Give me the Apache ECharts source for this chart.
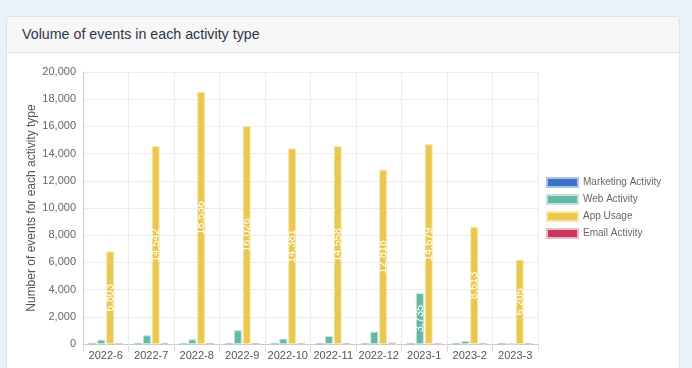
<!DOCTYPE html>
<html>
<head>
<meta charset="utf-8">
<script src="https://cdn.jsdelivr.net/npm/echarts@6/dist/echarts.min.js"></script>
<style>
html,body{margin:0;padding:0;width:692px;height:368px;overflow:hidden;background:#eaf1f9;}
#card{position:absolute;left:6px;top:16px;width:674px;height:380px;background:#fff;border:1px solid #dfe3e8;border-radius:4px;box-sizing:border-box;}
#head{position:absolute;left:0;top:0;right:0;height:35px;background:#f7f7f7;border-bottom:1px solid #e2e2e2;border-radius:4px 4px 0 0;}
#title{position:absolute;left:15px;top:8px;font-family:"Liberation Sans",Arial,sans-serif;font-size:15px;color:#2b3648;transform:scaleX(0.95);transform-origin:0 0;white-space:nowrap;}
#chart{position:absolute;left:0;top:0;width:692px;height:368px;}
</style>
</head>
<body>
<div id="card"><div id="head"><div id="title">Volume of events in each activity type</div></div></div>
<div id="chart"></div>
<script>
const categories = ['2022-6','2022-7','2022-8','2022-9','2022-10','2022-11','2022-12','2023-1','2023-2','2023-3'];
const marketingActivity = [12, 15, 14, 10, 12, 10, 12, 15, 14, 8];
const webActivity = [316, 640, 345, 1007, 390, 588, 904, 3735, 220, 10];
const appUsage = [6803, 14542, 18536, 16026, 14381, 14558, 12818, 14679, 8613, 6205];
const emailActivity = [10, 60, 60, 40, 50, 70, 110, 20, 50, 10];
const yTicks = [0, 2000, 4000, 6000, 8000, 10000, 12000, 14000, 16000, 18000, 20000];

const chart = echarts.init(document.getElementById('chart'));
const fmt = v => Number(v).toLocaleString('en-US');
const lbl = {
  show: true, position: 'inside', rotate: 90, color: '#fff', fontSize: 11,
  fontFamily: 'Liberation Sans, Arial, sans-serif',
  formatter: p => p.value >= 2000 ? fmt(p.value) : ''
};
function mk(name, data, color, border) {
  return {
    name, type: 'bar', data,
    barCategoryGap: '24%', barGap: '12%',
    itemStyle: { color, borderColor: border, borderWidth: 1 },
    label: lbl
  };
}
chart.setOption({
  animation: false,
  textStyle: { fontFamily: 'Liberation Sans, Arial, sans-serif' },
  grid: { left: 83, top: 72, right: 154, bottom: 24, containLabel: false },
  legend: {
    orient: 'vertical', left: 546, top: 177, padding: 0,
    itemWidth: 31, itemHeight: 9, itemGap: 6,
    icon: 'rect',
    textStyle: { fontSize: 10, color: '#666' },
    data: ['Marketing Activity', 'Web Activity', 'App Usage', 'Email Activity']
  },
  xAxis: {
    type: 'category', data: categories,
    axisLine: { lineStyle: { color: '#ccc' } },
    axisTick: { show: true, length: 8, interval: 0, lineStyle: { color: '#ddd' } },
    axisLabel: { color: '#555', fontSize: 11, margin: 6, interval: 0 },
    splitLine: { show: true, interval: 0, lineStyle: { color: '#ececec' } }
  },
  yAxis: {
    type: 'value', min: yTicks[0], max: yTicks[yTicks.length - 1], interval: yTicks[1] - yTicks[0],
    name: 'Number of events for each activity type', nameLocation: 'middle', nameGap: 45,
    nameMoveOverlap: false,
    nameTextStyle: { color: '#555', fontSize: 12 },
    axisLine: { show: true, lineStyle: { color: '#ccc' } },
    axisTick: { show: false },
    axisLabel: { color: '#666', fontSize: 11, margin: 7, formatter: fmt },
    splitLine: { lineStyle: { color: '#ececec' } }
  },
  series: [
    mk('Marketing Activity', marketingActivity, '#3b72c8', '#a9c2ea'),
    mk('Web Activity', webActivity, '#64b8a6', '#c0e3db'),
    mk('App Usage', appUsage, '#eac84f', '#f7e7ad'),
    mk('Email Activity', emailActivity, '#c9365c', '#eeb8c6')
  ]
});
</script>
</body>
</html>
